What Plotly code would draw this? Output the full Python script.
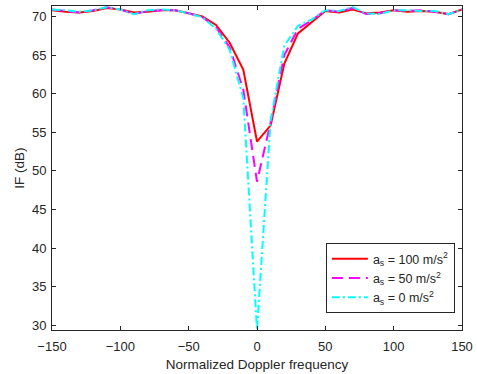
import plotly.graph_objects as go

doppler = list(range(-150, 151, 10))

if_100 = [70.8, 70.6, 70.5, 70.7, 71.1, 70.9, 70.5, 70.6, 70.8, 70.8, 70.4,
          70.0, 68.9, 66.6, 63.1, 53.8, 55.9, 63.9, 67.8, 69.3, 70.7,
          70.5, 70.9, 70.4, 70.5, 70.8, 70.6, 70.7, 70.6, 70.3, 70.9]
if_50 = [70.9, 70.7, 70.5, 70.8, 71.2, 70.9, 70.3, 70.7, 70.8, 70.8, 70.4,
         69.9, 68.6, 66.0, 60.5, 48.6, 56.3, 65.0, 68.4, 69.5, 70.8,
         70.6, 71.1, 70.3, 70.4, 70.8, 70.7, 70.8, 70.6, 70.3, 70.9]
if_0 = [70.9, 70.8, 70.6, 70.8, 71.2, 70.9, 70.3, 70.8, 70.9, 70.8, 70.4,
        69.9, 68.4, 65.7, 59.4, 29.4, 56.6, 66.2, 68.8, 69.6, 70.8,
        70.7, 71.2, 70.4, 70.3, 70.8, 70.8, 70.7, 70.7, 70.3, 70.9]

names = ["a<sub>s</sub> = 100 m/s<sup>2</sup>",
         "a<sub>s</sub> = 50 m/s<sup>2</sup>",
         "a<sub>s</sub> = 0 m/s<sup>2</sup>"]

fig = go.Figure()
fig.add_trace(go.Scatter(x=doppler, y=if_100, mode="lines", name=names[0],
                         line=dict(color="#FF0000", width=2, dash="solid")))
fig.add_trace(go.Scatter(x=doppler, y=if_50, mode="lines", name=names[1],
                         line=dict(color="#FF00FF", width=2, dash="11px,6px")))
fig.add_trace(go.Scatter(x=doppler, y=if_0, mode="lines", name=names[2],
                         line=dict(color="#00FFFF", width=2, dash="8px,3px,2px,3px")))

axis_common = dict(showgrid=False, zeroline=False, showline=True, linecolor="#262626",
                   linewidth=1, mirror="ticks", ticks="inside", ticklen=4,
                   tickcolor="#262626", automargin=False,
                   tickfont=dict(family="Liberation Sans, Arial", size=13, color="#262626"))

fig.update_layout(
    width=477, height=374,
    margin=dict(l=52, r=15, t=6, b=44),
    paper_bgcolor="white", plot_bgcolor="white",
    font=dict(family="Liberation Sans, Arial", color="#262626"),
    xaxis=dict(range=[-150, 150], tickvals=[-150, -100, -50, 0, 50, 100, 150],
               ticklabelstandoff=4,
               title=dict(text="Normalized Doppler frequency", font=dict(size=13.5), standoff=6),
               **axis_common),
    yaxis=dict(range=[29.4, 71.35], tickvals=[30, 35, 40, 45, 50, 55, 60, 65, 70],
               ticklabelstandoff=2,
               title=dict(text="IF (dB)", font=dict(size=13.5), standoff=4),
               **axis_common),
    legend=dict(x=0.668, y=0.2685, xanchor="left", yanchor="top",
                bordercolor="#262626", borderwidth=1, bgcolor="white",
                font=dict(size=12.5, color="#262626"), itemwidth=36,
                tracegroupgap=2),
    showlegend=True,
)

fig.write_html("out.html", config={"displayModeBar": False},
               post_script="document.body.style.margin='0px';")
